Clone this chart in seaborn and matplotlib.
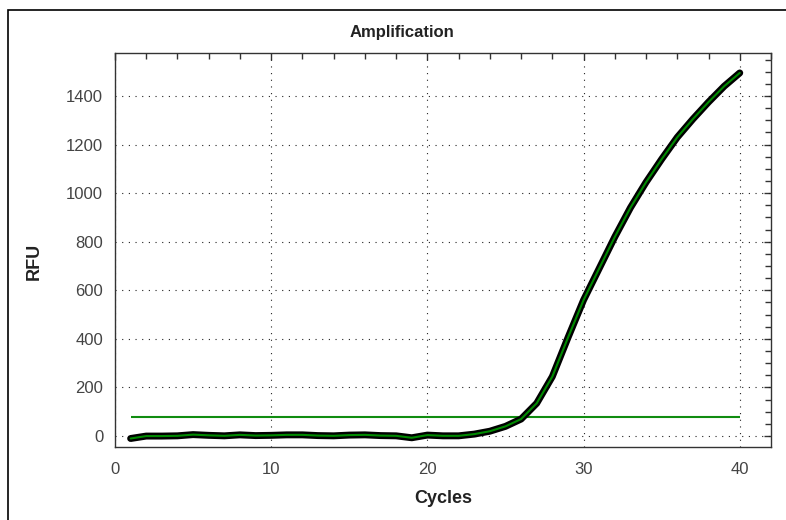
"""
Curva de amplificação (qPCR) - RFU por ciclo com linha de threshold.
"""

import matplotlib
matplotlib.use("Agg")
import matplotlib.pyplot as plt
import seaborn as sns
import pandas as pd
from matplotlib.patches import Rectangle
from matplotlib.ticker import MultipleLocator

# Dados
ciclos = list(range(1, 41))
rfu = [-10, 0, 0, 1, 6, 3, 1, 5, 2, 3,
       5, 5, 2, 1, 4, 5, 2, 1, -7, 4,
       1, 1, 8, 20, 40, 70, 135, 245, 405, 560,
       690, 820, 940, 1045, 1140, 1230, 1305, 1375, 1440, 1495]
threshold = 80

titulo = 'Amplification'
rotulo_x = 'Cycles'
rotulo_y = 'RFU'

df = pd.DataFrame({'ciclo': ciclos, 'rfu': rfu})

sns.set_style("white")
plt.rcParams['font.family'] = ['Liberation Sans', 'DejaVu Sans']

W, H = 786, 520
fig = plt.figure(figsize=(W / 100, H / 100), dpi=100)
ax = fig.add_axes([115 / W, 1 - 447 / H, 656 / W, 394 / H])

# Curva: contorno preto com linha verde por dentro
sns.lineplot(data=df, x='ciclo', y='rfu', ax=ax, color='black', lw=5, zorder=3)
sns.lineplot(data=df, x='ciclo', y='rfu', ax=ax, color='#008a00', lw=1.5, zorder=4)
ax.hlines(threshold, ciclos[0], ciclos[-1], color='#108c10', lw=1.5, zorder=2)

ax.set_xlim(0, 42)
ax.set_ylim(-45, 1577)
ax.xaxis.set_major_locator(MultipleLocator(10))
ax.xaxis.set_minor_locator(MultipleLocator(2))
ax.yaxis.set_major_locator(MultipleLocator(200))
ax.yaxis.set_minor_locator(MultipleLocator(50))

ax.grid(True, which='major', color='#222222', linestyle=(0, (1, 5)), lw=0.8)

for s in ax.spines.values():
    s.set_color('#333333')
    s.set_linewidth(1.0)

ax.tick_params(axis='both', which='major', direction='inout', length=9,
               width=1, color='#333333', labelsize=12, labelcolor='#444444')
ax.tick_params(axis='both', which='minor', direction='inout', length=5,
               width=1, color='#333333')
ax.tick_params(axis='x', which='major', pad=6)
ax.tick_params(axis='y', which='major', pad=4)

# Marcas internas no topo e à direita
topo = ax.secondary_xaxis('top')
topo.xaxis.set_major_locator(MultipleLocator(10))
topo.xaxis.set_minor_locator(MultipleLocator(2))
topo.tick_params(which='major', direction='in', length=5, width=1,
                 color='#333333', labeltop=False)
topo.tick_params(which='minor', direction='in', length=4, width=1, color='#333333')
direita = ax.secondary_yaxis('right')
direita.yaxis.set_major_locator(MultipleLocator(200))
direita.yaxis.set_minor_locator(MultipleLocator(50))
direita.tick_params(which='major', direction='in', length=5, width=1,
                    color='#333333', labelright=False)
direita.tick_params(which='minor', direction='in', length=4, width=1, color='#333333')
for sec in (topo, direita):
    for s in sec.spines.values():
        s.set_visible(False)

ax.set_xlabel(rotulo_x, fontsize=13, fontweight='bold', color='#222222')
ax.set_ylabel(rotulo_y, fontsize=13, fontweight='bold', color='#222222')
ax.xaxis.set_label_coords(0.5, -0.108)
ax.yaxis.set_label_coords(-0.11, 0.47)

fig.text(402 / W, 1 - 32 / H, titulo, ha='center', va='center',
         fontsize=12, fontweight='bold', color='#222222')

# Moldura da figura
fig.patches.append(Rectangle((8 / W, -0.1), 1.2, 1.1 - 10 / H, fill=False,
                             edgecolor='black', lw=1.2, transform=fig.transFigure))

fig.savefig('out.png', dpi=100)
plt.close(fig)
